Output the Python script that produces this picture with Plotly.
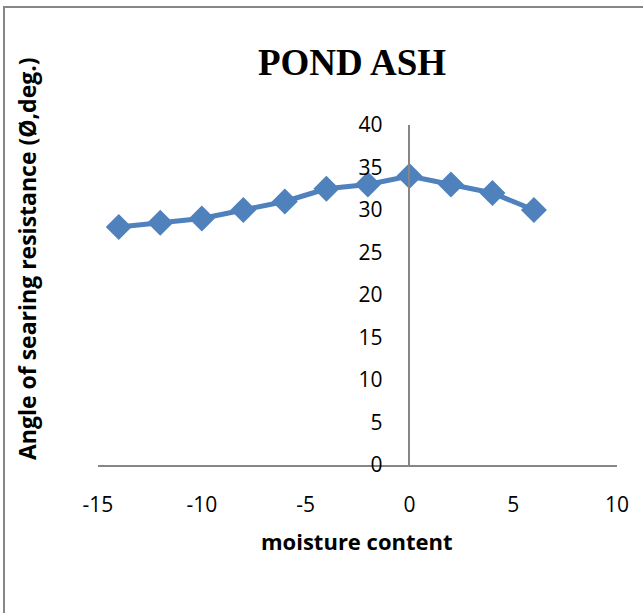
import plotly.graph_objects as go

# Moisture content vs angle of shearing resistance for pond ash
moisture = [-14, -12, -10, -8, -6, -4, -2, 0, 2, 4, 6]
angle = [28, 28.5, 29, 30, 31, 32.5, 33, 34, 33, 32, 30]

x_ticks = [-15, -10, -5, 0, 5, 10]
x_tick_text = ["-15", "-10", "-5", "0", "5", "10"]
y_ticks = [0, 5, 10, 15, 20, 25, 30, 35, 40]

W, H = 643, 613
L, R, T, B = 98, 26, 125, 148
pw, ph = W - L - R, H - T - B

blue = "#4F81BD"
grey = "#868686"
body_font = "Open Sans"

fig = go.Figure()
fig.add_trace(go.Scatter(
    x=moisture, y=angle, mode="lines+markers",
    line=dict(color=blue, width=5),
    marker=dict(symbol="diamond", size=20, color=blue),
    showlegend=False,
))

def px_x(p):
    return (p - L) / pw

def px_y(p):
    return (H - B - p) / ph

fig.update_layout(
    width=W, height=H,
    margin=dict(l=L, r=R, t=T, b=B),
    paper_bgcolor="white", plot_bgcolor="white",
    title=dict(text="<b>POND ASH</b>", font=dict(family="Liberation Serif", size=37, color="black"),
               xref="paper", x=px_x(352), xanchor="center",
               yref="container", y=1 - 62 / H, yanchor="middle"),
    xaxis=dict(range=[-15, 10], tickvals=x_ticks, ticktext=x_tick_text,
               showgrid=False, zeroline=False,
               showline=True, linecolor=grey, linewidth=1.5, ticks="",
               ticklabelstandoff=20,
               tickfont=dict(family=body_font, size=21, color="black")),
    yaxis=dict(range=[0, 40], tickvals=y_ticks, showgrid=False, zeroline=False,
               showline=True, linecolor=grey, linewidth=1.5, ticks="",
               anchor="free", position=15 / 25, ticklabelstandoff=22,
               tickfont=dict(family=body_font, size=21, color="black")),
    annotations=[
        dict(text="<b>moisture content</b>", xref="paper", yref="paper",
             x=px_x(357), y=px_y(541), xanchor="center", yanchor="middle",
             showarrow=False,
             font=dict(family=body_font, size=22, color="black")),
        dict(text="<b>Angle of searing resistance (Ø,deg.)</b>", xref="paper", yref="paper",
             x=px_x(27), y=px_y(259), xanchor="center", yanchor="middle",
             showarrow=False, textangle=-90,
             font=dict(family=body_font, size=23, color="black")),
    ],
    shapes=[
        dict(type="rect", xref="paper", yref="paper",
             x0=px_x(4), x1=px_x(700), y0=px_y(700), y1=px_y(7),
             line=dict(color=grey, width=2), fillcolor="rgba(0,0,0,0)", layer="below"),
    ],
)

fig.write_html("out.html")
